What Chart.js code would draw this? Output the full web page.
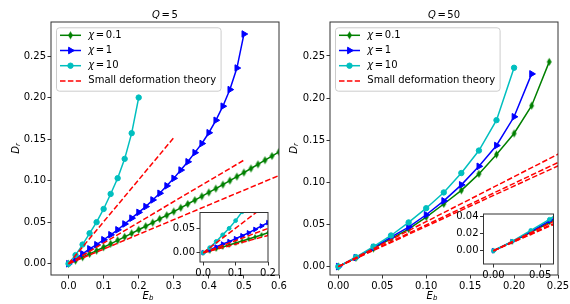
<!DOCTYPE html>
<html>
<head>
<meta charset="utf-8">
<script src="https://cdn.jsdelivr.net/npm/chart.js@4.4.1/dist/chart.umd.min.js"></script>
<style>
    html, body { margin: 0; padding: 0; background: #fff; }
    #wrap { position: relative; width: 570px; height: 304px; overflow: hidden; }
    canvas { position: absolute; }
</style>
</head>
<body>
<div id="wrap">
    <canvas id="leftMain"></canvas>
    <canvas id="rightMain"></canvas>
    <canvas id="leftInset"></canvas>
    <canvas id="rightInset"></canvas>
</div>
<script>
// ---- data ----
const qValues = ["5", "50"];
const chiLabels = ["0.1", "1", "10"];
const theoryLabel = "Small deformation theory";

// Q = 5
const q5GreenX = [0, 0.02, 0.04, 0.06, 0.08, 0.1, 0.12, 0.14, 0.16, 0.18, 0.2, 0.22, 0.24, 0.26, 0.28, 0.3,
    0.32, 0.34, 0.36, 0.38, 0.4, 0.42, 0.44, 0.46, 0.48, 0.5, 0.52, 0.54, 0.56, 0.58, 0.6, 0.62];
const q5GreenY = [0, 0.0039, 0.0079, 0.0119, 0.0159, 0.0200, 0.0241, 0.0283, 0.0325, 0.0367, 0.0410, 0.0453,
    0.0497, 0.0541, 0.0585, 0.0630, 0.0675, 0.0721, 0.0767, 0.0813, 0.0860, 0.0907, 0.0955, 0.1003, 0.1051,
    0.1100, 0.1149, 0.1199, 0.1249, 0.1299, 0.1350, 0.1401];
const q5BlueX = [0, 0.02, 0.04, 0.06, 0.08, 0.1, 0.12, 0.14, 0.16, 0.18, 0.2, 0.22, 0.24, 0.26, 0.28, 0.3,
    0.32, 0.34, 0.36, 0.38, 0.4, 0.42, 0.44, 0.46, 0.48, 0.5];
const q5BlueY = [0, 0.006, 0.012, 0.018, 0.023, 0.029, 0.035, 0.041, 0.048, 0.055, 0.062, 0.069, 0.077, 0.085,
    0.094, 0.103, 0.113, 0.123, 0.134, 0.145, 0.158, 0.173, 0.190, 0.210, 0.236, 0.277];
const q5CyanX = [0, 0.02, 0.04, 0.06, 0.08, 0.1, 0.12, 0.14, 0.16, 0.18, 0.2];
const q5CyanY = [0, 0.0105, 0.0232, 0.0368, 0.0502, 0.0661, 0.0842, 0.1032, 0.1265, 0.1575, 0.2004];
const q5TheoryX = [[0, 0.3], [0, 0.5], [0, 0.62]];
const q5TheoryY = [[0, 0.152], [0, 0.125], [0, 0.110]];

// Q = 50
const q50GreenX = [0, 0.02, 0.04, 0.06, 0.08, 0.1, 0.12, 0.14, 0.16, 0.18, 0.2, 0.22, 0.24];
const q50GreenY = [0, 0.0104, 0.0215, 0.0331, 0.0445, 0.0588, 0.0743, 0.0905, 0.110, 0.133, 0.158, 0.191, 0.2430];
const q50BlueX = [0, 0.02, 0.04, 0.06, 0.08, 0.1, 0.12, 0.14, 0.16, 0.18, 0.2, 0.22];
const q50BlueY = [0, 0.0108, 0.0225, 0.035, 0.0469, 0.0615, 0.078, 0.097, 0.119, 0.1437, 0.1778, 0.2287];
const q50CyanX = [0, 0.02, 0.04, 0.06, 0.08, 0.1, 0.12, 0.14, 0.16, 0.18, 0.2];
const q50CyanY = [0, 0.0111, 0.0238, 0.0369, 0.0524, 0.0693, 0.088, 0.111, 0.1377, 0.1738, 0.236];
const q50TheoryX = [[0, 0.26], [0, 0.26], [0, 0.26]];
const q50TheoryY = [[0, 0.1387], [0, 0.1284], [0, 0.1243]];

// tick labels
const q5XTicks = ["0.0", "0.1", "0.2", "0.3", "0.4", "0.5", "0.6"];
const q50XTicks = ["0.00", "0.05", "0.10", "0.15", "0.20", "0.25"];
const mainYTicks = ["0.00", "0.05", "0.10", "0.15", "0.20", "0.25"];
const q5InsetXTicks = ["0.0", "0.1", "0.2"];
const q5InsetYTicks = ["0.00", "0.05"];
const q50InsetXTicks = ["0.00", "0.05"];
const q50InsetYTicks = ["0.00", "0.02", "0.04"];

// ---- styling ----
const GREEN = "#008000", BLUE = "#0000ff", CYAN = "#00bfbf", RED = "#ff0000";
const FONT = "'DejaVu Sans', sans-serif";
Chart.defaults.font.family = FONT;
Chart.defaults.font.size = 10;
Chart.defaults.color = "#000";

// matplotlib 'd' marker (thin diamond) as a small image
function thinDiamond(h, color) {
    const w = h * 0.6;
    const c = document.createElement("canvas");
    c.width = Math.ceil(w) + 2;
    c.height = Math.ceil(h) + 2;
    const g = c.getContext("2d");
    g.fillStyle = color;
    g.beginPath();
    g.moveTo(c.width / 2, 1);
    g.lineTo(c.width / 2 + w / 2, c.height / 2);
    g.lineTo(c.width / 2, c.height - 1);
    g.lineTo(c.width / 2 - w / 2, c.height / 2);
    g.closePath();
    g.fill();
    return c;
}

function markers(big) {
    return {
        green: { pointStyle: thinDiamond(big ? 8 : 5.5, GREEN), pointRadius: 3 },
        blue: { pointStyle: "triangle", pointRadius: big ? 3.8 : 2.6, rotation: 90 },
        cyan: { pointStyle: "circle", pointRadius: big ? 2.7 : 1.9 },
    };
}

function lineSet(xs, ys, color, m, order) {
    return {
        data: xs.map((x, i) => ({ x: x, y: ys[i] })),
        borderColor: color,
        backgroundColor: color,
        borderWidth: 1.5,
        pointStyle: m.pointStyle,
        pointRadius: m.pointRadius,
        pointRotation: m.rotation || 0,
        pointBorderWidth: 1,
        pointBorderColor: color,
        pointBackgroundColor: color,
        order: order,
        clip: 0,
    };
}

function theorySets(xsList, ysList) {
    return xsList.map((xs, k) => ({
        data: xs.map((x, i) => ({ x: x, y: ysList[k][i] })),
        borderColor: RED,
        borderWidth: 1.5,
        borderDash: [5.5, 2.4],
        pointRadius: 0,
        order: 0,
        clip: 0,
    }));
}

function panelSets(g, b, c, theory, big) {
    const m = markers(big);
    return [
        lineSet(g[0], g[1], GREEN, m.green, 3),
        lineSet(b[0], b[1], BLUE, m.blue, 2),
        lineSet(c[0], c[1], CYAN, m.cyan, 1),
    ].concat(theorySets(theory[0], theory[1]));
}

// ---- text helpers (mathtext look) ----
function partFont(p) {
    return (p.it ? "italic " : "") + (p.sub ? 7 : 10) + "px " + FONT;
}
function measureParts(ctx, parts) {
    let w = 0;
    parts.forEach((p) => {
        ctx.font = partFont(p);
        w += ctx.measureText(p.t).width + 2 * (p.pad || 0);
    });
    return w;
}
function drawParts(ctx, parts, x, y, align) {
    const w = measureParts(ctx, parts);
    let cx = align === "center" ? x - w / 2 : x;
    ctx.textBaseline = "middle";
    ctx.textAlign = "left";
    ctx.fillStyle = "#000";
    parts.forEach((p) => {
        ctx.font = partFont(p);
        cx += p.pad || 0;
        ctx.fillText(p.t, cx, y + (p.sub ? 2.6 : 0));
        cx += ctx.measureText(p.t).width + (p.pad || 0);
    });
}
const eq = (sym, val) => [{ t: sym, it: true }, { t: "=", pad: 1.6 }, { t: val }];
const EbParts = [{ t: "E", it: true }, { t: "b", it: true, sub: true }];
const DrParts = [{ t: "D", it: true }, { t: "r", it: true, sub: true }];

function drawMarker(ctx, m, color, x, y) {
    ctx.save();
    ctx.fillStyle = color;
    ctx.strokeStyle = color;
    ctx.lineWidth = 1;
    if (m.pointStyle instanceof HTMLCanvasElement) {
        ctx.drawImage(m.pointStyle, x - m.pointStyle.width / 2, y - m.pointStyle.height / 2);
    } else if (m.pointStyle === "circle") {
        ctx.beginPath();
        ctx.arc(x, y, m.pointRadius, 0, Math.PI * 2);
        ctx.fill();
        ctx.stroke();
    } else {
        const r = m.pointRadius;
        ctx.beginPath();
        ctx.moveTo(x + r, y);
        ctx.lineTo(x - r / 2, y - r * 0.866);
        ctx.lineTo(x - r / 2, y + r * 0.866);
        ctx.closePath();
        ctx.fill();
        ctx.stroke();
    }
    ctx.restore();
}

// ---- plugins ----
const framePlugin = {
    id: "frame",
    beforeDraw(chart, args, opts) {
        if (!opts.fill) return;
        const a = chart.chartArea;
        chart.ctx.save();
        chart.ctx.fillStyle = "#fff";
        chart.ctx.fillRect(a.left, a.top, a.width, a.height);
        chart.ctx.restore();
    },
    afterDatasetsDraw(chart) {
        const a = chart.chartArea, ctx = chart.ctx;
        ctx.save();
        ctx.strokeStyle = "#333";
        ctx.lineWidth = 1;
        ctx.strokeRect(a.left, a.top, a.width, a.height);
        ctx.restore();
    },
};

function legendPlugin() {
    const m = markers(true);
    const entries = [
        { parts: eq("χ", chiLabels[0]), color: GREEN, m: m.green },
        { parts: eq("χ", chiLabels[1]), color: BLUE, m: m.blue },
        { parts: eq("χ", chiLabels[2]), color: CYAN, m: m.cyan },
        { parts: [{ t: theoryLabel }], color: RED, dashed: true },
    ];
    return {
        id: "mplLegend",
        afterDraw(chart) {
            const ctx = chart.ctx, a = chart.chartArea;
            const x0 = a.left + 5, y0 = a.top + 5.3;
            const textW = Math.max(...entries.map((e) => measureParts(ctx, e.parts)));
            const w = 4 + 21 + 7.3 + textW + 4.5, h = 63.4;
            ctx.save();
            ctx.beginPath();
            ctx.roundRect(x0 + 0.5, y0 + 0.5, w, h, 3);
            ctx.fillStyle = "rgba(255,255,255,0.8)";
            ctx.fill();
            ctx.strokeStyle = "#cccccc";
            ctx.lineWidth = 1;
            ctx.stroke();
            entries.forEach((e, i) => {
                const cy = y0 + 8 + i * 15.2;
                ctx.strokeStyle = e.color;
                ctx.lineWidth = 1.5;
                ctx.setLineDash(e.dashed ? [5.5, 2.4] : []);
                ctx.beginPath();
                ctx.moveTo(x0 + 4, cy);
                ctx.lineTo(x0 + 25, cy);
                ctx.stroke();
                ctx.setLineDash([]);
                if (e.m) drawMarker(ctx, e.m, e.color, x0 + 14.5, cy);
                drawParts(ctx, e.parts, x0 + 32.3, cy, "left");
            });
            ctx.restore();
        },
    };
}

function labelPlugin(box, q, xLabelX, yLabelX) {
    return {
        id: "labels",
        afterDraw(chart) {
            const ctx = chart.ctx, a = chart.chartArea;
            ctx.save();
            drawParts(ctx, eq("Q", q), (a.left + a.right) / 2, a.top - 6.5, "center");
            drawParts(ctx, EbParts, xLabelX - box.x, 296, "center");
            ctx.translate(yLabelX - box.x, (a.top + a.bottom) / 2);
            ctx.rotate(-Math.PI / 2);
            drawParts(ctx, DrParts, 0, 0, "center");
            ctx.restore();
        },
    };
}

// ---- chart builder ----
function axis(range, tickLabels, fit) {
    return {
        type: "linear",
        min: range[0],
        max: range[1],
        afterBuildTicks: (s) => { s.ticks = tickLabels.map((t) => ({ value: parseFloat(t) })); },
        afterFit: fit,
        ticks: {
            autoSkip: false,
            maxRotation: 0,
            padding: 1.5,
            color: "#000",
            font: { size: 10 },
            callback: (v, i) => tickLabels[i],
        },
        grid: { drawOnChartArea: false, tickLength: 3.5, tickColor: "#000", tickWidth: 0.8 },
        border: { display: false },
    };
}

function makeChart(id, box, area, datasets, xr, xt, yr, yt, extra, inset) {
    const cv = document.getElementById(id);
    cv.width = box.w;
    cv.height = box.h;
    cv.style.left = box.x + "px";
    cv.style.top = box.y + "px";
    return new Chart(cv, {
        type: "line",
        data: { datasets: datasets },
        options: {
            responsive: false,
            animation: false,
            devicePixelRatio: 1,
            layout: {
                padding: {
                    top: area.y - box.y,
                    right: box.x + box.w - (area.x + area.w),
                    left: 0,
                    bottom: 0,
                },
            },
            plugins: {
                legend: { display: false },
                tooltip: { enabled: false },
                frame: { fill: inset },
            },
            scales: {
                x: axis(xr, xt, (s) => { s.height = box.y + box.h - (area.y + area.h); }),
                y: axis(yr, yt, (s) => { s.width = area.x - box.x; }),
            },
        },
        plugins: [framePlugin].concat(extra),
    });
}

const q5Data = [[q5GreenX, q5GreenY], [q5BlueX, q5BlueY], [q5CyanX, q5CyanY], [q5TheoryX, q5TheoryY]];
const q50Data = [[q50GreenX, q50GreenY], [q50BlueX, q50BlueY], [q50CyanX, q50CyanY], [q50TheoryX, q50TheoryY]];

const leftBox = { x: 0, y: 0, w: 300, h: 304 };
const rightBox = { x: 285, y: 0, w: 300, h: 304 };
const leftInsetBox = { x: 168, y: 200, w: 114, h: 80 };
const rightInsetBox = { x: 448, y: 202, w: 122, h: 80 };

makeChart("leftMain", leftBox, { x: 51, y: 22, w: 228, h: 253 },
    panelSets(...q5Data, true), [-0.05, 0.6], q5XTicks, [-0.0135, 0.2915], mainYTicks,
    [legendPlugin(), labelPlugin(leftBox, qValues[0], 148, 16)], false);

makeChart("rightMain", rightBox, { x: 330, y: 22, w: 228, h: 253 },
    panelSets(...q50Data, true), [-0.0095, 0.25], q50XTicks, [-0.0100, 0.2903], mainYTicks,
    [legendPlugin(), labelPlugin(rightBox, qValues[1], 432, 294)], false);

makeChart("leftInset", leftInsetBox, { x: 200, y: 212.5, w: 68, h: 49.5 },
    panelSets(...q5Data, false), [-0.01, 0.2], q5InsetXTicks, [-0.019, 0.0828], q5InsetYTicks,
    [], true);

makeChart("rightInset", rightInsetBox, { x: 483.5, y: 214, w: 70, h: 50 },
    panelSets(...q50Data, false), [-0.0107, 0.0643], q50InsetXTicks, [-0.0155, 0.0431], q50InsetYTicks,
    [], true);
</script>
</body>
</html>
